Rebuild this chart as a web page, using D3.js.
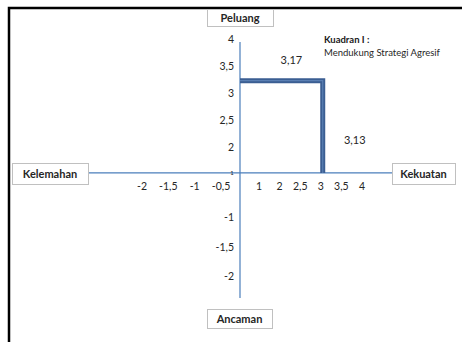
<!DOCTYPE html>
<html>
<head>
<meta charset="utf-8">
<script src="https://cdn.jsdelivr.net/npm/d3@7"></script>
<style>
  body { margin: 0; background: #fff; }
  svg { display: block; font-family: Lato, "Liberation Sans", sans-serif; }
</style>
</head>
<body>
<svg width="462" height="342"></svg>
<script>
// data values
const kekuatanScore = 3.13;   // x, strengths
const peluangScore = 3.17;    // y, opportunities
const xTicksNeg = ["-2", "-1,5", "-1", "-0,5"];
const xTicksPos = ["1", "2", "2,5", "3", "3,5", "4"];
const yTicksPos = ["4", "3,5", "3", "2,5", "2"];
const yTicksNeg = ["-1", "-1,5", "-2"];
const axisTitles = ["Peluang", "Ancaman", "Kelemahan", "Kekuatan"];
const quadrantTitle = "Kuadran I :";
const quadrantText = "Mendukung Strategi Agresif";

let svg = d3.select('svg');

// page frame (black border on top and left)
svg.append('path')
  .attr('d', 'M9,342 V8 H462')
  .attr('fill', 'none').attr('stroke', '#000').attr('stroke-width', 2.5);

// scales
let xScale = d3.scaleLinear().domain([-5.75, 5.75]).range([88, 392]);
let yScale = d3.scaleLinear().domain([-4.3, 4.5]).range([298, 42]);

// tick labels were placed by hand, so each group gets its own point scale
let xNeg = d3.scalePoint().domain(xTicksNeg).range([142, 221]);
let xPos = d3.scalePoint().domain(xTicksPos).range([259, 362]);
let yPos = d3.scalePoint().domain(yTicksPos).range([39, 147]);
let yNeg = d3.scalePoint().domain(yTicksNeg).range([217, 276]);

let axisColor = '#4a7ebb';
let g = svg.append('g');

// axes
g.append('line')
  .attr('x1', xScale(-5.75)).attr('x2', xScale(5.75))
  .attr('y1', yScale(0)).attr('y2', yScale(0))
  .attr('stroke', axisColor).attr('stroke-width', 1.2);
g.append('line')
  .attr('x1', xScale(0)).attr('x2', xScale(0))
  .attr('y1', yScale(4.5)).attr('y2', yScale(-4.3))
  .attr('stroke', axisColor).attr('stroke-width', 1.2);

// the quadrant line
let pts = [[0, peluangScore], [kekuatanScore, peluangScore], [kekuatanScore, 0]];
let line = d3.line()
  .x(function (d) { return xScale(d[0]) })
  .y(function (d) { return yScale(d[1]) });
g.append('path').attr('d', line(pts))
  .attr('fill', 'none').attr('stroke', '#3b5e92').attr('stroke-width', 5)
  .attr('stroke-linejoin', 'miter');
g.append('path').attr('d', line(pts))
  .attr('fill', 'none').attr('stroke', '#5a7fb3').attr('stroke-width', 1.2)
  .attr('stroke-linejoin', 'miter');

// tick labels
let tickFont = 10.5, tickColor = '#262626';
g.selectAll('.xn').data(xTicksNeg).enter().append('text')
  .attr('x', function (d) { return xNeg(d) }).attr('y', 190)
  .attr('text-anchor', 'middle').attr('font-size', tickFont).attr('fill', tickColor)
  .text(function (d) { return d });
g.selectAll('.xp').data(xTicksPos).enter().append('text')
  .attr('x', function (d) { return xPos(d) }).attr('y', 190)
  .attr('text-anchor', 'middle').attr('font-size', tickFont).attr('fill', tickColor)
  .text(function (d) { return d });
g.selectAll('.yp').data(yTicksPos).enter().append('text')
  .attr('x', 234).attr('y', function (d) { return yPos(d) + 4 })
  .attr('text-anchor', 'end').attr('font-size', tickFont).attr('fill', tickColor)
  .text(function (d) { return d });
g.selectAll('.yn').data(yTicksNeg).enter().append('text')
  .attr('x', 234).attr('y', function (d) { return yNeg(d) + 4 })
  .attr('text-anchor', 'end').attr('font-size', tickFont).attr('fill', tickColor)
  .text(function (d) { return d });
// tiny "1" that sits on the axis crossing
g.append('text').attr('x', 232).attr('y', yScale(0) + 2)
  .attr('text-anchor', 'middle').attr('font-size', 6).attr('fill', tickColor).text('1');

// value labels
g.append('text').attr('x', (xScale(0) + xScale(kekuatanScore)) / 2 + 10)
  .attr('y', yScale(peluangScore) - 17)
  .attr('text-anchor', 'middle').attr('font-size', 11).attr('fill', tickColor)
  .text(String(peluangScore).replace('.', ','));
g.append('text').attr('x', xScale(kekuatanScore) + 32)
  .attr('y', (yScale(peluangScore) + yScale(0)) / 2 + 17)
  .attr('text-anchor', 'middle').attr('font-size', 11).attr('fill', tickColor)
  .text(String(kekuatanScore).replace('.', ','));

// quadrant note
g.append('text').attr('x', 324).attr('y', 43)
  .attr('font-size', 9.5).attr('font-weight', 'bold').attr('fill', '#1a1a1a')
  .text(quadrantTitle);
g.append('text').attr('x', 324).attr('y', 56)
  .attr('font-size', 9.5).attr('fill', '#262626')
  .text(quadrantText);

// axis title boxes
let boxes = [
  {t: axisTitles[0], x: 207, y: 9, w: 66, h: 17},
  {t: axisTitles[1], x: 207, y: 309, w: 65, h: 19},
  {t: axisTitles[2], x: 12, y: 163, w: 76, h: 21},
  {t: axisTitles[3], x: 392, y: 163, w: 63, h: 21}
];
let bg = svg.selectAll('.box').data(boxes).enter().append('g');
bg.append('rect')
  .attr('x', function (d) { return d.x + 0.5 }).attr('y', function (d) { return d.y + 0.5 })
  .attr('width', function (d) { return d.w }).attr('height', function (d) { return d.h })
  .attr('fill', '#fff').attr('stroke', '#c0c0c0').attr('stroke-width', 1);
bg.append('text')
  .attr('x', function (d) { return d.x + d.w / 2 })
  .attr('y', function (d) { return d.y + d.h / 2 + 4 })
  .attr('text-anchor', 'middle').attr('font-size', 11).attr('font-weight', 'bold')
  .attr('fill', '#262626')
  .text(function (d) { return d.t });
</script>
</body>
</html>
